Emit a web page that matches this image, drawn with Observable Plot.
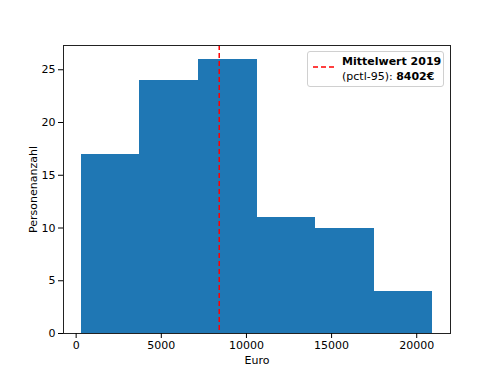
<!DOCTYPE html>
<html>
<head>
<meta charset="utf-8">
<script src="https://cdn.jsdelivr.net/npm/d3@7"></script>
<script src="https://cdn.jsdelivr.net/npm/@observablehq/plot@0.6"></script>
<style>
  body { margin: 0; background: #fff; }
  #wrap { position: relative; width: 500px; height: 375px; font-family: "DejaVu Sans", sans-serif; }
  #legend { position: absolute; left: 307px; top: 51px; width: 137px; height: 36px; box-sizing: border-box;
    border: 1px solid #d0d0d0; border-radius: 3px; background: rgba(255,255,255,0.85);
    font-size: 11px; color: #000; line-height: 15px; }
  #legend svg { position: absolute; left: 5px; top: 12px; }
  #legend .t { position: absolute; left: 34px; top: 2px; white-space: nowrap; }
</style>
</head>
<body>
<div id="wrap"></div>
<script>
const binEdges = [290, 3733, 7177, 10620, 14063, 17507, 20950];
const counts = [17, 24, 26, 11, 10, 4];
const meanValue = 8402;
const xTicks = [0, 5000, 10000, 15000, 20000];
const yTicks = [0, 5, 10, 15, 20, 25];

const bins = counts.map((c, i) => ({x1: binEdges[i], x2: binEdges[i + 1], y: c}));

const chart = Plot.plot({
  width: 500,
  height: 375,
  marginLeft: 63,
  marginRight: 50,
  marginTop: 45,
  marginBottom: 42,
  style: {fontFamily: "DejaVu Sans, sans-serif", fontSize: "11px", color: "#000", background: "#fff"},
  x: {domain: [-743, 21983]},
  y: {domain: [0, 27.3]},
  marks: [
    Plot.rectY(bins, {x1: "x1", x2: "x2", y: "y", fill: "#1f77b4", inset: 0, shapeRendering: "crispEdges"}),
    Plot.ruleX([meanValue], {stroke: "#ff0000", strokeWidth: 1.5, strokeDasharray: "5,3"}),
    Plot.frame({stroke: "#222", strokeWidth: 1}),
    Plot.axisX({ticks: xTicks, tickSize: 5, tickPadding: 3, tickFormat: d => String(d),
      label: "Euro", labelAnchor: "center", labelArrow: "none", labelOffset: 30}),
    Plot.axisY({ticks: yTicks, tickSize: 5, tickPadding: 3, tickFormat: d => String(d),
      label: "Personenanzahl", labelAnchor: "center", labelArrow: "none", labelOffset: 34})
  ]
});

const wrap = document.getElementById("wrap");
wrap.appendChild(chart);

const legend = document.createElement("div");
legend.id = "legend";
legend.innerHTML = '<svg width="26" height="6"><line x1="0" y1="3" x2="24" y2="3" stroke="#ff0000" stroke-width="1.5" stroke-dasharray="5,3"/></svg>' +
  '<div class="t"><b>Mittelwert 2019</b><br>(pctl-95): <b>8402€</b></div>';
wrap.appendChild(legend);
</script>
</body>
</html>
